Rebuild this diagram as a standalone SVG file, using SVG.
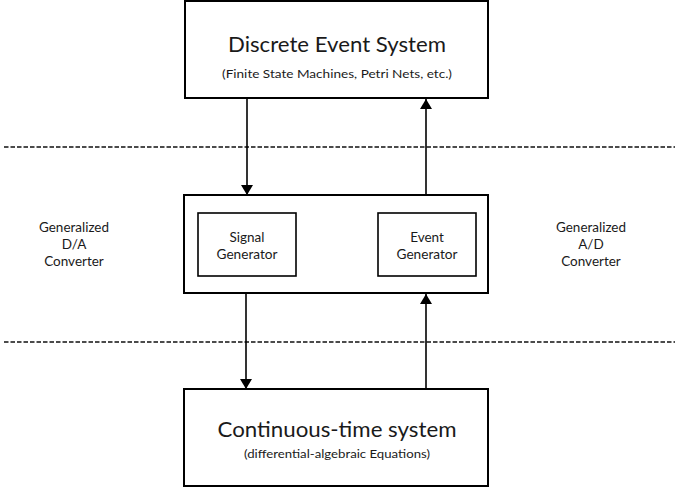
<svg xmlns="http://www.w3.org/2000/svg" width="675" height="488" viewBox="0 0 675 488">
<style>
.box{fill:#fff;stroke:#000;stroke-width:2}
.in{fill:#fff;stroke:#000;stroke-width:1.6}
.t{font-family:Lato,"Open Sans","Liberation Sans",sans-serif;fill:#1a1a1a;text-anchor:middle}
.big{font-size:21.5px}
.sm{font-size:12px}
.md{font-size:13.5px}
.dash{stroke:#111;stroke-width:1.5;stroke-dasharray:4.5,2;fill:none}
.con{stroke:#000;stroke-width:1.6;fill:none;marker-end:url(#ah)}
</style>
<defs>
<marker id="ah" viewBox="0 0 10 12" refX="10" refY="6" markerWidth="10" markerHeight="12" markerUnits="userSpaceOnUse" orient="auto">
<path d="M0,0 L10,6 L0,12 Z" fill="#000"/>
</marker>
</defs>
<g id="separators">
<line class="dash" x1="4" y1="147" x2="675" y2="147"/>
<line class="dash" x1="4" y1="342" x2="675" y2="342"/>
</g>
<g id="des">
<rect class="box" x="185" y="1" width="303" height="97"/>
<text class="t big" x="337" y="52" textLength="218" lengthAdjust="spacingAndGlyphs">Discrete Event System</text>
<text class="t sm" x="337" y="78" textLength="230" lengthAdjust="spacingAndGlyphs">(Finite State Machines, Petri Nets, etc.)</text>
</g>
<g id="interface">
<rect class="box" x="184" y="195" width="304" height="98"/>
</g>
<g id="signal-gen">
<rect class="in" x="198" y="213" width="98" height="63"/>
<text class="t md" x="247" y="242">Signal</text>
<text class="t md" x="247" y="259" textLength="61" lengthAdjust="spacingAndGlyphs">Generator</text>
</g>
<g id="event-gen">
<rect class="in" x="378" y="213" width="98" height="63"/>
<text class="t md" x="427" y="242">Event</text>
<text class="t md" x="427" y="259" textLength="61" lengthAdjust="spacingAndGlyphs">Generator</text>
</g>
<g id="cts">
<rect class="box" x="184" y="389" width="304" height="97"/>
<text class="t big" x="337" y="437" textLength="239" lengthAdjust="spacingAndGlyphs">Continuous-time system</text>
<text class="t sm" x="337" y="458" textLength="186" lengthAdjust="spacingAndGlyphs">(differential-algebraic Equations)</text>
</g>
<g id="da-label">
<text class="t md" x="74" y="232" textLength="70" lengthAdjust="spacingAndGlyphs">Generalized</text>
<text class="t md" x="74" y="249">D/A</text>
<text class="t md" x="74" y="266">Converter</text>
</g>
<g id="ad-label">
<text class="t md" x="591" y="232" textLength="70" lengthAdjust="spacingAndGlyphs">Generalized</text>
<text class="t md" x="591" y="249">A/D</text>
<text class="t md" x="591" y="266">Converter</text>
</g>
<g id="connectors">
<line class="con" x1="247" y1="98" x2="247" y2="195"/>
<line class="con" x1="426" y1="195" x2="426" y2="99"/>
<line class="con" x1="246" y1="293" x2="246" y2="389"/>
<line class="con" x1="426" y1="389" x2="426" y2="294"/>
</g>
</svg>
